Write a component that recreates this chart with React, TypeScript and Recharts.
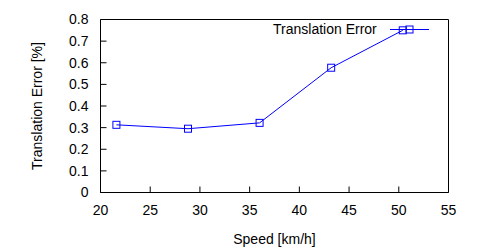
import React from 'react';
import { LineChart, Line, XAxis, YAxis, Legend, ReferenceLine } from 'recharts';

const speeds = [21.6, 28.8, 36.0, 43.2, 50.4];
const translationErrors = [0.313, 0.295, 0.322, 0.577, 0.75];
const xTicks = [20, 25, 30, 35, 40, 45, 50, 55];
const yTicks = [0, 0.1, 0.2, 0.3, 0.4, 0.5, 0.6, 0.7, 0.8];

const data = speeds.map((speed, i) => ({ speed, error: translationErrors[i] }));

const FONT = '"Liberation Sans", Arial, Helvetica, sans-serif';
const BLUE = '#0000ff';

const SquareDot = (props: any) => {
  const { cx, cy, index } = props;
  if (cx == null || cy == null) return <g key={`d-${index}`} />;
  return (
    <rect
      key={`d-${index}`}
      x={cx - 3.5}
      y={cy - 3.5}
      width={7}
      height={7}
      fill="none"
      stroke={BLUE}
      strokeWidth={1}
    />
  );
};

const renderLegend = (props: any) => {
  const { payload } = props;
  return (
    <div style={{ display: 'flex', alignItems: 'center' }}>
      {(payload || []).map((entry: any) => (
        <div key={entry.value} style={{ display: 'flex', alignItems: 'center', height: 16 }}>
          <span style={{ fontFamily: FONT, fontSize: 14, color: '#000', lineHeight: '16px', marginRight: 13 }}>
            {entry.value}
          </span>
          <svg width={39} height={10} style={{ display: 'block' }}>
            <line x1={0} y1={5.5} x2={39} y2={5.5} stroke={entry.color} strokeWidth={1} />
            <rect x={16} y={2} width={7} height={7} fill="none" stroke={entry.color} strokeWidth={1} />
          </svg>
        </div>
      ))}
    </div>
  );
};

const tickStyle = { fontFamily: FONT, fontSize: 14, fill: '#000' };

export default function App() {
  return (
    <div style={{ position: 'absolute', left: 0, top: 0, width: 500, height: 250, background: '#fff' }}>
      <LineChart
        width={500}
        height={250}
        data={data}
        margin={{ top: 18.5, right: 50.5, left: 20.5, bottom: 27.5 }}
      >
        <XAxis
          dataKey="speed"
          type="number"
          domain={[20, 55]}
          ticks={xTicks}
          interval={0}
          height={30}
          axisLine={false}
          tickSize={-6}
          tickMargin={19}
          tick={tickStyle}
          stroke="#000"
          label={{ value: 'Speed [km/h]', position: 'bottom', offset: 12, style: tickStyle }}
        />
        <XAxis xAxisId="top" dataKey="speed" type="number" orientation="top" domain={[20, 55]}
          ticks={xTicks} interval={0} height={1} tick={false} axisLine={false} tickSize={-6} stroke="#000" />
        <YAxis
          type="number"
          domain={[0, 0.8]}
          ticks={yTicks}
          interval={0}
          width={80}
          axisLine={false}
          tickSize={-6}
          tickMargin={18}
          tick={tickStyle}
          stroke="#000"
          label={{
            value: 'Translation Error [%]',
            angle: -90,
            position: 'insideLeft',
            offset: 17,
            style: { ...tickStyle, textAnchor: 'middle' },
          }}
        />
        <YAxis yAxisId="right" type="number" orientation="right" domain={[0, 0.8]}
          ticks={yTicks} interval={0} width={1} tick={false} axisLine={false} tickSize={-6} stroke="#000" />
        {/* plot border */}
        <ReferenceLine x={20} stroke="#000" />
        <ReferenceLine x={55} stroke="#000" />
        <ReferenceLine y={0} stroke="#000" />
        <ReferenceLine y={0.8} stroke="#000" />
        <Legend
          layout="horizontal"
          align="center"
          verticalAlign="middle"
          content={renderLegend}
          wrapperStyle={{ position: 'absolute', top: 21, left: 273, width: 'auto' }}
        />
        <Line
          type="linear"
          dataKey="error"
          name="Translation Error"
          stroke={BLUE}
          strokeWidth={1}
          dot={SquareDot}
          activeDot={false}
          isAnimationActive={false}
        />
      </LineChart>
    </div>
  );
}
